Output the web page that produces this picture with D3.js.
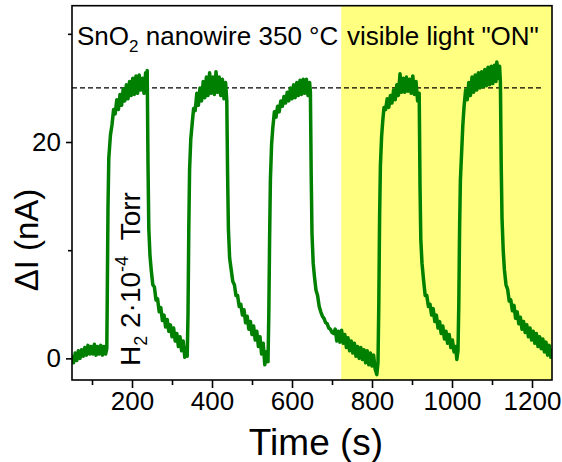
<!DOCTYPE html>
<html><head><meta charset="utf-8">
<script src="https://cdn.jsdelivr.net/npm/d3@7"></script>
<style>
body{margin:0;background:#fff}
text{font-family:Arial,"Liberation Sans",sans-serif;fill:#000}
</style>
</head><body>
<svg id="c" width="562" height="462"></svg>
<script>
// ---- data ----
const time = [
50,54,58,62,66,70,74,78,82,86,90,94,98,102,106,110,114,118,122,126,130,134,137,
138,140,142,146,150,154,158,162,166,170,174,178,182,186,190,194,198,202,206,210,214,218,222,226,230,234,237,238,
240,242,245,248,252,256,260,264,268,272,276,280,284,288,292,296,300,304,308,312,316,320,324,328,332,336,338,
340,342,344,347,350,354,358,362,366,370,374,378,382,386,390,394,398,402,406,410,414,418,422,426,430,434,437,
439,441,444,448,452,456,460,464,468,472,476,480,484,488,492,496,500,504,508,512,516,520,524,528,532,536,540,
542,544,546,549,552,556,560,564,568,572,576,580,584,588,592,596,600,604,608,612,616,620,624,628,632,636,640,644,646,
648,650,653,656,660,664,668,672,676,680,684,688,692,696,700,704,708,712,716,720,724,728,732,736,740,744,748,752,756,760,764,768,772,776,780,784,788,792,796,800,804,808,812,815,
817,819,821,824,827,830,834,838,842,846,850,854,858,862,866,870,874,878,882,886,890,894,898,902,906,910,914,918,
920,922,925,929,933,937,941,945,949,953,957,961,965,969,973,977,981,985,989,993,997,1001,1005,1009,1012,1015,
1017,1019,1021,1024,1027,1030,1034,1038,1042,1046,1050,1054,1058,1062,1066,1070,1074,1078,1082,1086,1090,1094,1098,1102,1106,1110,1112,1116,1119,1121,
1123,1125,1128,1131,1135,1139,1143,1147,1151,1155,1159,1163,1167,1171,1175,1179,1183,1187,1191,1195,1199,1203,1207,1211,1215,1219,1223,1227,1231,1235,1239,1243,1247,1250
];
const current = [
0.3,-0.4,0.5,-0.2,0.7,0.0,0.8,0.2,1.0,0.3,1.2,0.4,1.1,0.4,1.3,0.3,1.1,0.4,1.2,0.3,1.1,0.4,0.9,
5,14,18.5,20.6,21.6,23.0,22.6,23.9,23.0,24.4,23.4,24.9,23.8,25.3,24.0,25.6,24.3,25.9,24.4,26.1,24.5,26.2,24.8,25.9,24.5,26.4,25.0,26.6,
18,12,9.5,8.2,6.8,6.6,5.4,5.5,4.3,4.7,3.5,4.0,2.9,3.6,2.5,3.1,2.0,2.8,1.6,2.3,1.1,2.0,0.7,1.6,0.1,1.0,0.2,
4,12,17.5,20.3,21.5,23.1,22.9,24.5,23.4,25.0,23.8,25.6,24.1,26.0,24.3,26.4,24.5,26.0,24.4,26.5,24.6,26.0,24.3,25.8,24.0,25.5,23.8,
17,12,9.3,8.2,7.1,6.8,5.8,5.8,4.8,5.0,4.0,4.5,3.3,3.9,2.7,3.4,2.2,3.0,1.7,2.5,1.1,2.0,0.4,1.4,-0.6,0.6,-0.3,
4,11,16.5,19.8,21.3,22.8,22.3,23.3,22.8,23.8,23.3,24.2,23.6,24.6,23.8,25.0,24.0,25.3,24.1,25.5,24.3,25.7,24.4,25.8,24.5,25.8,24.3,25.5,24.6,
17,11.5,8.8,7.6,6.3,5.8,4.8,4.3,3.9,3.7,3.3,3.2,2.8,2.7,2.4,2.3,2.7,1.6,2.5,1.5,2.6,1.4,2.2,1.0,1.9,0.7,1.6,0.5,1.4,0.2,1.1,0.0,1.0,-0.1,0.8,-0.4,0.7,-0.6,0.5,-0.7,0.3,-1.0,-1.5,-0.4,
5,13,17.8,20.5,22.0,23.2,23.0,24.0,23.2,24.3,23.6,24.8,23.9,25.3,24.3,26.3,24.6,25.9,24.6,26.0,24.7,25.8,24.5,26.1,24.4,25.6,23.8,24.5,
16,11,8.8,7.2,5.8,5.8,4.8,5.0,4.0,4.6,3.4,4.0,2.8,3.4,2.3,3.0,1.8,2.5,1.4,2.2,1.0,1.7,0.6,1.1,-0.1,0.7,
5,12,16.5,19.0,21.5,23.2,24.8,23.9,25.5,24.3,26.0,24.6,26.2,24.8,26.4,25.0,26.5,25.1,26.7,25.2,26.9,25.3,27.0,25.4,27.1,25.6,27.4,25.9,27.0,25.5,
18,13,10,8.2,6.8,6.4,5.3,5.4,4.4,4.9,3.7,4.3,3.2,3.8,2.7,3.4,2.4,3.1,2.0,2.8,1.7,2.5,1.4,2.3,1.1,2.0,0.9,1.8,0.6,1.5,0.3,1.2,0.1,0.9
];
const xMajor = [200,400,600,800,1000,1200];
const xMinor = [100,300,500,700,900,1100];
const yMajor = [0,20];
const yMinor = [10,30];
const xDomain = [50,1250];
const yDomain = [-2,32.6];
const lightOnStart = 723;
const saturationLevel = 25;
const dashEnd = 1228;

// ---- drawing ----
const svg = d3.select("#c");
const L=72, R=552, T=5.7, B=380;
const x = d3.scaleLinear().domain(xDomain).range([L,R]);
const y = d3.scaleLinear().domain(yDomain).range([B,T]);

svg.append("defs").append("clipPath").attr("id","clip")
  .append("rect").attr("x",L).attr("y",T).attr("width",R-L).attr("height",B-T);

// yellow light-on region
svg.append("rect").attr("x",x(lightOnStart)).attr("y",T)
  .attr("width",x(xDomain[1])-x(lightOnStart)).attr("height",B-T)
  .attr("fill","#ffff80");

// dashed saturation level
svg.append("line").attr("x1",x(xDomain[0])).attr("x2",x(dashEnd))
  .attr("y1",y(saturationLevel)).attr("y2",y(saturationLevel))
  .attr("stroke","#000").attr("stroke-width",1.2).attr("stroke-dasharray","5,3");

// data line
const pts = time.map((t,i)=>[t,current[i]]);
svg.append("path").datum(pts).attr("clip-path","url(#clip)")
  .attr("fill","none").attr("stroke","#008000").attr("stroke-width",3.5)
  .attr("stroke-linejoin","round")
  .attr("d", d3.line().x(d=>x(d[0])).y(d=>y(d[1])));

// frame
svg.append("rect").attr("x",L).attr("y",T).attr("width",R-L).attr("height",B-T)
  .attr("fill","none").attr("stroke","#000").attr("stroke-width",1.6);

// axes
const fs = 26;
const xa = svg.append("g").attr("transform",`translate(0,${B})`)
  .call(d3.axisBottom(x).tickValues(xMajor).tickSize(8).tickPadding(4).tickFormat(d3.format("d")));
const xm = svg.append("g").attr("transform",`translate(0,${B})`)
  .call(d3.axisBottom(x).tickValues(xMinor).tickSize(5).tickFormat(""));
const ya = svg.append("g").attr("transform",`translate(${L},0)`)
  .call(d3.axisLeft(y).tickValues(yMajor).tickSize(6).tickPadding(5).tickFormat(d3.format("d")));
const ym = svg.append("g").attr("transform",`translate(${L},0)`)
  .call(d3.axisLeft(y).tickValues(yMinor).tickSize(4).tickFormat(""));
[xa,xm,ya,ym].forEach(g=>{
  g.select(".domain").remove();
  g.selectAll(".tick line").attr("stroke","#000").attr("stroke-width",1.6);
  g.selectAll("text").attr("font-size",fs).attr("font-family","Arial, 'Liberation Sans', sans-serif").attr("fill","#000");
});

// axis titles
svg.append("text").attr("x",316).attr("y",455).attr("text-anchor","middle")
  .attr("font-size",37).text("Time (s)");
svg.append("text").attr("transform","translate(38,240) rotate(-90)").attr("text-anchor","middle")
  .attr("font-size",33).text("\u0394I (nA)");

// annotations
const a1 = svg.append("text").attr("x",77).attr("y",45).attr("font-size",26);
a1.append("tspan").text("SnO");
a1.append("tspan").attr("font-size",17).attr("dy",7).text("2");
a1.append("tspan").attr("dy",-7).text(" nanowire 350 \u00B0C");

svg.append("text").attr("x",347).attr("y",45).attr("font-size",26).text("visible light \"ON\"");

const a3 = svg.append("text").attr("transform","translate(140,366) rotate(-90)").attr("font-size",28);
a3.append("tspan").text("H");
a3.append("tspan").attr("font-size",18).attr("dy",7).text("2");
a3.append("tspan").attr("dy",-7).text(" 2\u00B710");
a3.append("tspan").attr("font-size",18).attr("dy",-12).text("-4");
a3.append("tspan").attr("dy",12).attr("xml:space","preserve").text("\u00A0\u00A0Torr");
</script>
</body></html>
